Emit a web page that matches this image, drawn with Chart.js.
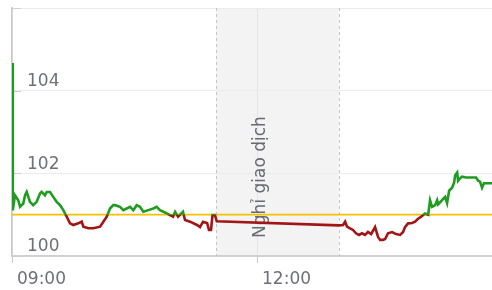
<!DOCTYPE html>
<html>
<head>
<meta charset="utf-8">
<script src="https://cdn.jsdelivr.net/npm/chart.js@4/dist/chart.umd.min.js"></script>
<style>
  html, body { margin: 0; padding: 0; background: #fff; }
  #wrap { width: 492px; height: 290px; }
</style>
</head>
<body>
<div id="wrap"><canvas id="c" width="492" height="290"></canvas></div>
<script>
// Minutes after 09:00 for each price sample
const minutes = [
  0, 0.5, 0.7, 2.2, 4.6, 5.9, 8.3, 9.6, 10.8, 12.0, 13.2, 15.6, 18.1, 20.6, 21.8, 24.2, 25.5, 27.9,
  30.3, 32.8, 35.3, 37.7, 40.2, 42.6, 45.0, 48.7, 51.2, 52.4, 56.1, 59.7, 64.7, 67.1, 69.6, 72.0,
  74.4, 75.7, 79.3, 81.8, 84.3, 86.7, 89.1, 91.6, 94.0, 96.5, 100.1, 103.8, 106.3, 108.7, 111.2,
  113.7, 116.1, 118.3, 119.8, 122.0, 125.6, 127.1, 130.8, 135.9, 138.1, 140.3, 143.3, 144.7, 146.2,
  147.3, 149.1, 150.4,
  240, 243.2, 244.7, 246.1, 248.3, 250.5, 252.7, 254.9, 257.1, 259.3, 261.5, 263.8, 266.7, 268.9,
  270.4, 272.6, 274.1, 276.2, 279.2, 282.1, 285.1, 287.3, 288.7, 291.0, 293.9, 296.1, 298.3, 300.5,
  303.4, 305.7, 307.1, 308.6, 310.8, 312.3, 313.0, 314.5, 316.7, 318.2, 319.6, 321.1, 323.3, 324.8,
  325.5, 327.0, 327.7, 329.2, 330.6, 333.6, 337.2, 340.9, 342.4, 343.8, 345.3, 346.7, 349.7, 352.6
];
const prices = [
  104.67, 101.10, 101.11, 101.47, 101.35, 101.19, 101.27, 101.47, 101.55, 101.43, 101.31, 101.23, 101.31, 101.51, 101.55, 101.47, 101.55, 101.55,
  101.43, 101.31, 101.23, 101.11, 100.95, 100.79, 100.75, 100.79, 100.83, 100.71, 100.67, 100.67, 100.71, 100.83, 100.95, 101.15,
  101.23, 101.23, 101.19, 101.11, 101.15, 101.19, 101.11, 101.23, 101.19, 101.07, 101.11, 101.15, 101.19, 101.11, 101.07,
  101.03, 100.99, 100.95, 101.07, 100.95, 101.07, 100.87, 100.83, 100.75, 100.70, 100.83, 100.80, 100.63, 100.63,
  100.99, 100.99, 100.84,
  100.74, 100.75, 100.83, 100.71, 100.67, 100.63, 100.55, 100.51, 100.55, 100.51, 100.58, 100.53, 100.70, 100.46,
  100.39, 100.39, 100.41, 100.55, 100.58, 100.53, 100.51, 100.58, 100.70, 100.79, 100.80, 100.83, 100.90, 100.95,
  101.03, 101.00, 101.35, 101.19, 101.23, 101.35, 101.25, 101.30, 101.38, 101.43, 101.28, 101.58, 101.65, 101.78,
  101.95, 102.02, 101.82, 101.88, 101.92, 101.90, 101.90, 101.90, 101.82, 101.80, 101.65, 101.76, 101.76, 101.76
];
const referencePrice = 101.0;
const xTickMinutes = [0, 180];
const xTickLabels = ['09:00', '12:00'];
const yTickValues = [100, 102, 104, 106];
const yTickLabels = ['100', '102', '104', ''];
const breakStart = 150;   // 11:30
const breakEnd = 240;     // 13:00
const breakLabel = 'Nghỉ giao dịch';
const breakLabelAt = 180; // label sits beside the 12:00 tick
const xMax = 352.6;

const GREEN = '#1f9c1f';
const RED = '#a31414';
const TEXT = '#6e7079';
const FONT = 'DejaVu Sans';

const points = minutes.map((m, i) => ({ x: m, y: prices[i] }));

function splitColor(context) {
  const chart = context.chart;
  const area = chart.chartArea;
  if (!area) return GREEN;
  const yRef = chart.scales.y.getPixelForValue(referencePrice);
  const f = Math.min(Math.max((yRef - area.top) / (area.bottom - area.top), 0), 1);
  const g = chart.ctx.createLinearGradient(0, area.top, 0, area.bottom);
  g.addColorStop(0, GREEN);
  g.addColorStop(f, GREEN);
  g.addColorStop(f, RED);
  g.addColorStop(1, RED);
  return g;
}

const breakPlugin = {
  id: 'breakPlugin',
  beforeDraw(chart) {
    const { ctx, chartArea: a, scales: { x } } = chart;
    ctx.save();
    ctx.fillStyle = '#fff';
    ctx.fillRect(0, 0, chart.width, chart.height);
    const x0 = x.getPixelForValue(breakStart);
    const x1 = x.getPixelForValue(breakEnd);
    ctx.fillStyle = '#f3f3f3';
    ctx.fillRect(x0, a.top, x1 - x0, a.bottom - a.top);
    ctx.restore();
  },
  beforeDatasetsDraw(chart) {
    const { ctx, chartArea: a, scales: { x, y } } = chart;
    const x0 = x.getPixelForValue(breakStart);
    const x1 = x.getPixelForValue(breakEnd);
    ctx.save();
    ctx.strokeStyle = '#c4c4c4';
    ctx.lineWidth = 1;
    ctx.setLineDash([3, 3]);
    [x0, x1].forEach(px => {
      ctx.beginPath();
      ctx.moveTo(Math.round(px) + 0.5, a.top);
      ctx.lineTo(Math.round(px) + 0.5, a.bottom);
      ctx.stroke();
    });
    ctx.setLineDash([]);
    // short inward tick marks on the value axis
    ctx.strokeStyle = '#cfcfcf';
    yTickValues.forEach(v => {
      const py = Math.round(y.getPixelForValue(v)) + 0.5;
      ctx.beginPath();
      ctx.moveTo(a.left, py);
      ctx.lineTo(a.left + 9, py);
      ctx.stroke();
    });
    // break label
    ctx.translate(x.getPixelForValue(breakLabelAt) + 4, (a.top + a.bottom) / 2 + 45);
    ctx.rotate(-Math.PI / 2);
    ctx.fillStyle = '#666a72';
    ctx.font = '17px "' + FONT + '"';
    ctx.textAlign = 'center';
    ctx.textBaseline = 'middle';
    ctx.fillText(breakLabel, 0, 0);
    ctx.restore();
  }
};

new Chart(document.getElementById('c'), {
  type: 'line',
  data: {
    datasets: [
      {
        label: 'Giá',
        data: points,
        borderColor: splitColor,
        borderWidth: 2.6,
        pointRadius: 0,
        fill: false,
        tension: 0,
        order: 1
      },
      {
        label: 'Tham chiếu',
        data: [{ x: 0, y: referencePrice }, { x: xMax, y: referencePrice }],
        borderColor: '#f5c000',
        borderWidth: 1.8,
        pointRadius: 0,
        fill: false,
        order: 2
      }
    ]
  },
  options: {
    responsive: false,
    animation: false,
    devicePixelRatio: 1,
    layout: { padding: { left: 12, top: 8, right: 0, bottom: 2 } },
    plugins: { legend: { display: false }, tooltip: { enabled: false } },
    scales: {
      x: {
        type: 'linear',
        min: 0,
        max: xMax,
        afterBuildTicks(scale) { scale.ticks = xTickMinutes.map(v => ({ value: v })); },
        afterFit(scale) { scale.paddingLeft = 0; scale.paddingRight = 0; scale.height = 32; },
        grid: { color: '#e4e4e4', tickColor: '#c8c8c8', tickLength: 7, lineWidth: 1 },
        border: { color: '#d0d0d0', width: 2 },
        ticks: {
          align: 'start',
          labelOffset: 5,
          padding: 6,
          maxRotation: 0,
          autoSkip: false,
          color: TEXT,
          font: { family: FONT, size: 17 },
          callback(v) { const i = xTickMinutes.indexOf(v); return i >= 0 ? xTickLabels[i] : ''; }
        }
      },
      y: {
        min: 100,
        max: 106,
        afterBuildTicks(scale) { scale.ticks = yTickValues.map(v => ({ value: v })); },
        afterFit(scale) { scale.width = 0; scale.paddingTop = 0; scale.paddingBottom = 0; },
        grid: { color: '#ebebeb', drawTicks: false, lineWidth: 1 },
        border: { color: '#c8c8c8', width: 1.5 },
        ticks: {
          mirror: true,
          padding: 15,
          labelOffset: -9,
          color: TEXT,
          font: { family: FONT, size: 17 },
          callback(v) { const i = yTickValues.indexOf(v); return i >= 0 ? yTickLabels[i] : ''; }
        }
      }
    }
  },
  plugins: [breakPlugin]
});
</script>
</body>
</html>
